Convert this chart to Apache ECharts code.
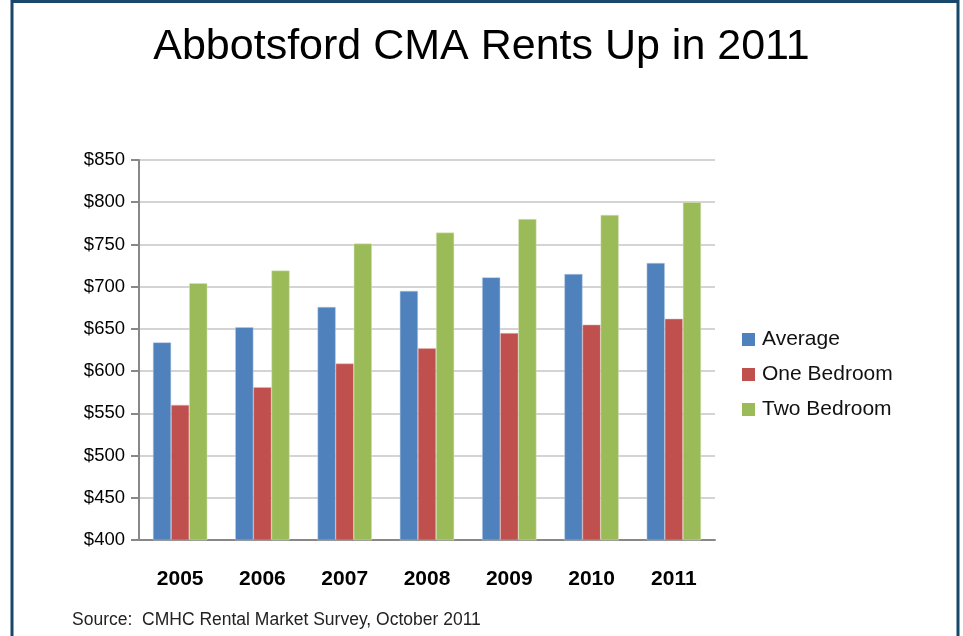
<!DOCTYPE html>
<html><head><meta charset="utf-8">
<script src="https://cdn.jsdelivr.net/npm/echarts@6/dist/echarts.min.js"></script>
<style>html,body{margin:0;padding:0;background:#fff}#c{width:963px;height:636px}</style>
</head><body><div id="c"></div>
<script>
const categories = ['2005','2006','2007','2008','2009','2010','2011'];
const average = [634, 652, 676, 695, 711, 715, 728];
const oneBedroom = [560, 581, 609, 627, 645, 655, 662];
const twoBedroom = [704, 719, 751, 764, 780, 785, 800];
const yTicks = [400, 450, 500, 550, 600, 650, 700, 750, 800, 850];

const chart = echarts.init(document.getElementById('c'));
const font = 'Liberation Sans, Arial, sans-serif';
chart.setOption({
  animation: false,
  title: {
    text: 'Abbotsford CMA Rents Up in 2011',
    left: 'center', top: 21,
    textStyle: {fontFamily: font, fontSize: 43, fontWeight: 'normal', color: '#000'}
  },
  graphic: [
    {type: 'rect', shape: {x: 12, y: 1.5, width: 946, height: 700}, style: {fill: 'none', stroke: '#17476b', lineWidth: 3}},
    {type: 'rect', shape: {x: 11, y: 0, width: 106, height: 3}, style: {fill: '#17476b'}},
    {type: 'text', left: 72, top: 611, style: {text: 'Source:  CMHC Rental Market Survey, October 2011', fontFamily: font, fontSize: 17.5, fill: '#222'}}
  ],
  legend: {
    orient: 'vertical', left: 737, top: 324, itemGap: 14,
    itemWidth: 13, itemHeight: 13, icon: 'rect',
    itemStyle: {borderWidth: 0},
    textStyle: {fontFamily: font, fontSize: 21, color: '#111', padding: [0, 0, 0, 2]},
    data: ['Average', 'One Bedroom', 'Two Bedroom']
  },
  grid: {left: 139, right: 248, top: 160, bottom: 96},
  xAxis: {
    type: 'category', data: categories,
    axisLine: {lineStyle: {color: '#888', width: 2}},
    axisTick: {length: 7, lineStyle: {color: '#888', width: 2}},
    axisLabel: {margin: 29, fontFamily: font, fontSize: 21, fontWeight: 'bold', color: '#000'}
  },
  yAxis: {
    type: 'value', min: yTicks[0], max: yTicks[yTicks.length - 1], interval: 50,
    axisLine: {show: true, lineStyle: {color: '#888', width: 2}},
    axisTick: {show: true, length: 8, lineStyle: {color: '#888', width: 2}},
    axisLabel: {margin: 14, fontFamily: font, fontSize: 18.5, color: '#000', formatter: v => '$' + v},
    splitLine: {lineStyle: {color: '#d4d4d4', width: 2}}
  },
  series: [
    {name: 'Average', type: 'bar', data: average, barGap: '0%', barCategoryGap: '34%',
     itemStyle: {color: '#4F81BD', borderColor: '#b9cde5', borderWidth: 0.5}},
    {name: 'One Bedroom', type: 'bar', data: oneBedroom,
     itemStyle: {color: '#C0504D', borderColor: '#e6b9b8', borderWidth: 0.5}},
    {name: 'Two Bedroom', type: 'bar', data: twoBedroom,
     itemStyle: {color: '#9BBB59', borderColor: '#d7e4bd', borderWidth: 0.5}}
  ]
});
</script></body></html>
